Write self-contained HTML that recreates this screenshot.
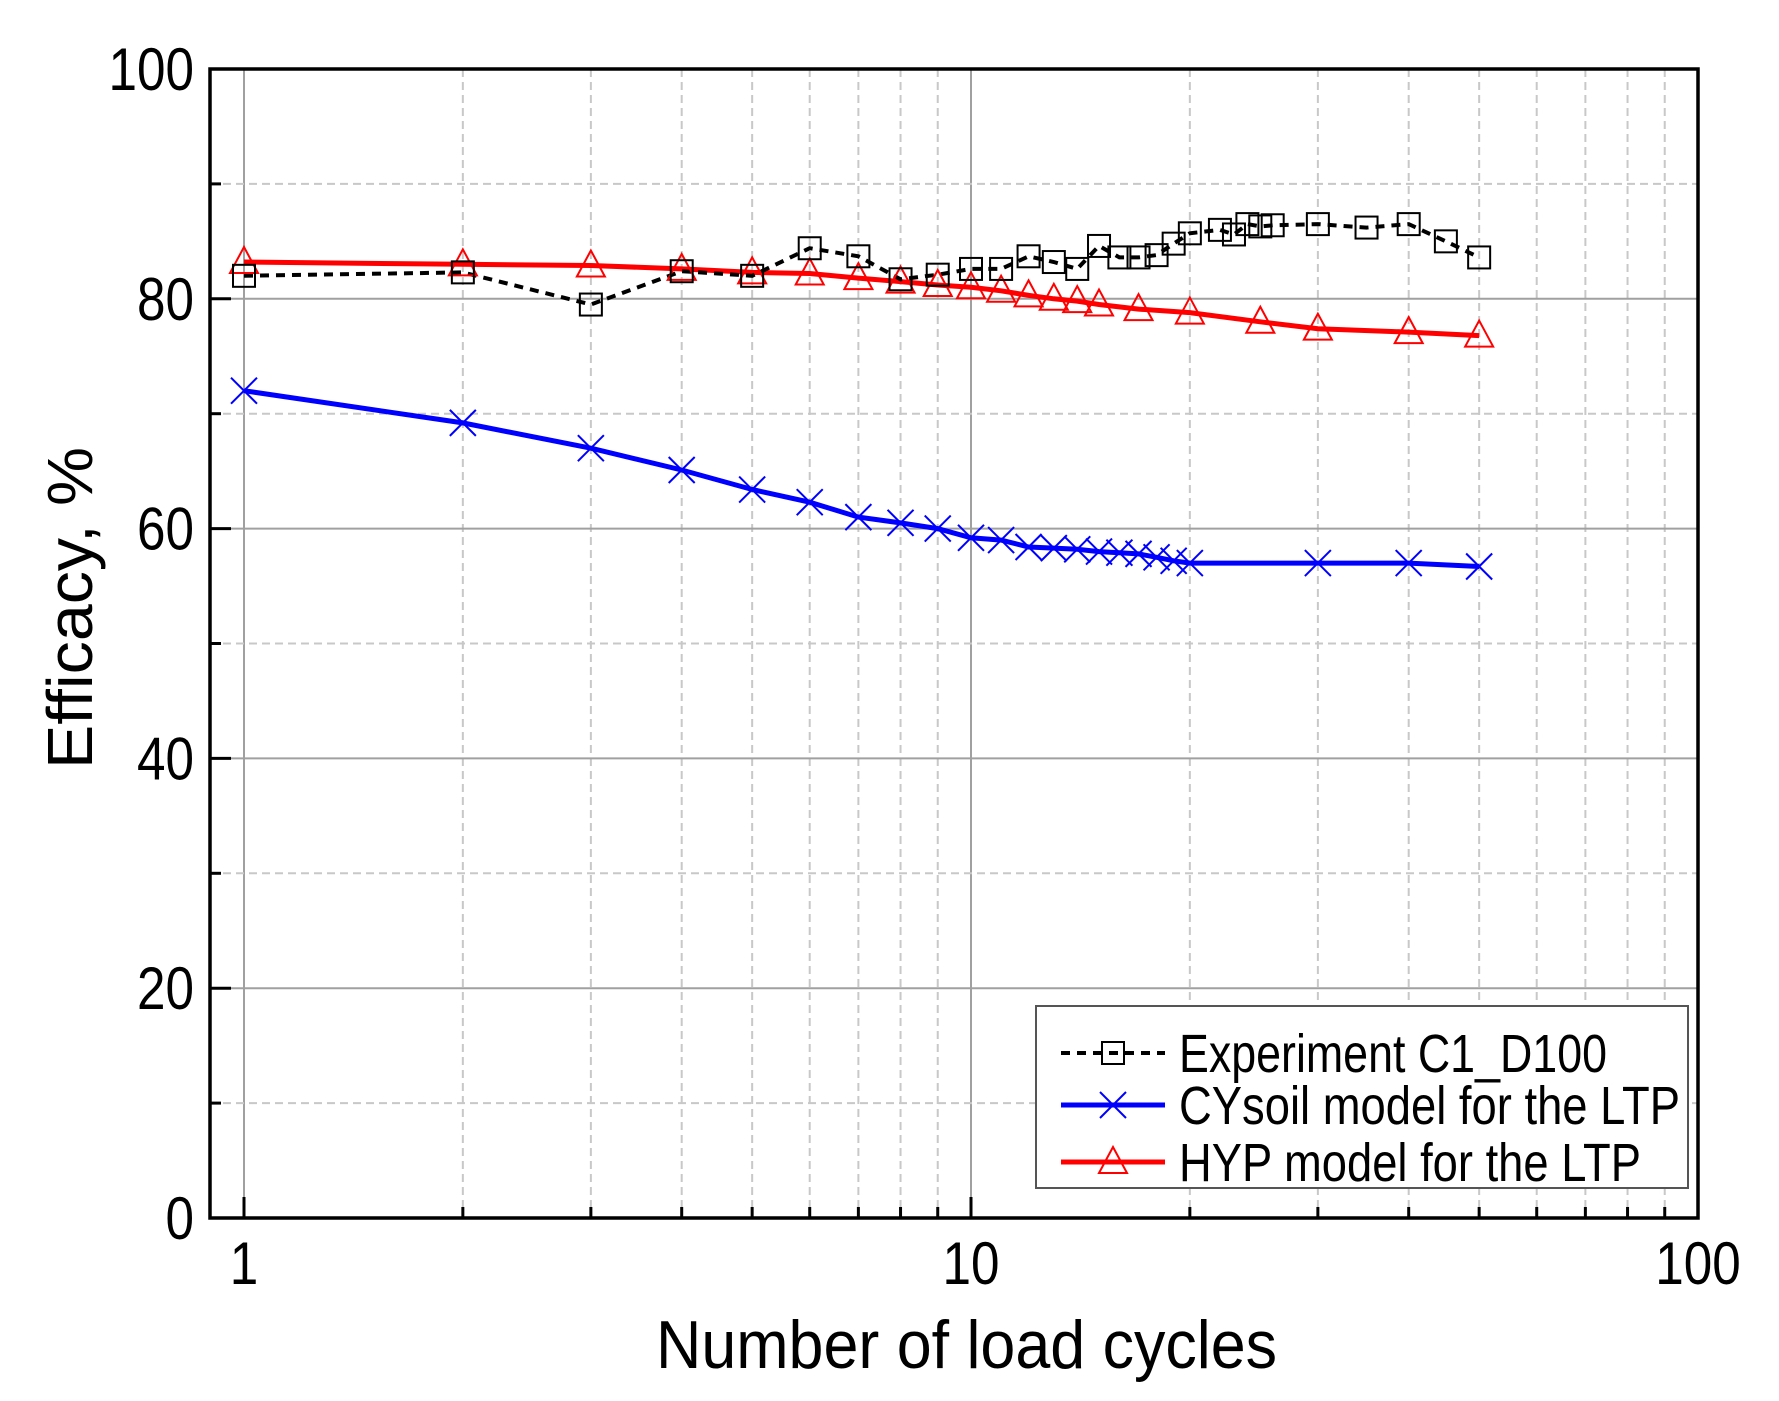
<!DOCTYPE html>
<html><head><meta charset="utf-8"><style>
html,body{margin:0;padding:0;background:#fff}
svg{display:block}
text{font-family:"Liberation Sans",Arial,sans-serif;fill:#000}
</style></head><body>
<svg id="s" width="1779" height="1401" xmlns="http://www.w3.org/2000/svg"></svg>
<script>
const L=210,R=1698,T=69,B=1218,X0=244,DEC=727;
const xp=v=>X0+Math.log10(v)*DEC, yp=v=>B-(v/100)*(B-T);
let h='';
for(let d=0;d<2;d++)for(let k=2;k<=9;k++){const x=xp(k*Math.pow(10,d));h+=`<line x1="${x}" y1="${T}" x2="${x}" y2="${B}" stroke="#c8c8c8" stroke-width="2" stroke-dasharray="8,5"/>`;
h+=`<line x1="${x}" y1="${B}" x2="${x}" y2="${B-11}" stroke="#000" stroke-width="3"/>`;}
for(const v of [1,10]){const x=xp(v);h+=`<line x1="${x}" y1="${T}" x2="${x}" y2="${B}" stroke="#a0a0a0" stroke-width="2"/><line x1="${x}" y1="${B}" x2="${x}" y2="${B-21}" stroke="#000" stroke-width="3"/>`;}
for(let v=10;v<100;v+=10){const y=yp(v);if(v%20==0){h+=`<line x1="${L}" y1="${y}" x2="${R}" y2="${y}" stroke="#a0a0a0" stroke-width="2"/><line x1="${L}" y1="${y}" x2="${L+21}" y2="${y}" stroke="#000" stroke-width="3"/>`;}
else{h+=`<line x1="${L}" y1="${y}" x2="${R}" y2="${y}" stroke="#c8c8c8" stroke-width="2" stroke-dasharray="8,5"/><line x1="${L}" y1="${y}" x2="${L+11}" y2="${y}" stroke="#000" stroke-width="3"/>`;}}
const tw=t=>t.length*28.5;
for(let v=0;v<=100;v+=20){const t=String(v);h+=`<text x="${194-tw(t)}" y="${yp(v)+21}" font-size="60" textLength="${tw(t)}" lengthAdjust="spacingAndGlyphs">${t}</text>`;}
[[1,'1'],[10,'10'],[100,'100']].forEach(([v,t])=>h+=`<text x="${xp(v)-tw(t)/2}" y="1284" font-size="60" textLength="${tw(t)}" lengthAdjust="spacingAndGlyphs">${t}</text>`);
h+=`<text x="656" y="1368" font-size="68" textLength="621" lengthAdjust="spacingAndGlyphs">Number of load cycles</text>`;
h+=`<text transform="translate(92,608) rotate(-90)" font-size="64" text-anchor="middle" textLength="322" lengthAdjust="spacingAndGlyphs">Efficacy, %</text>`;
const ex=[[1,82],[2,82.3],[3,79.5],[4,82.4],[5,82],[6,84.4],[7,83.7],[8,81.7],[9,82.1],[10,82.6],[11,82.6],[12,83.7],[13,83.2],[14,82.6],[15,84.6],[16,83.6],[17,83.6],[18,83.8],[19,84.8],[20,85.7],[22,86],[23,85.6],[24,86.5],[25,86.3],[26,86.4],[30,86.5],[35,86.2],[40,86.5],[45,85],[50,83.6]];
const cy=[[1,72],[2,69.2],[3,67],[4,65.1],[5,63.4],[6,62.3],[7,61],[8,60.5],[9,60],[10,59.2],[11,59],[12,58.4],[13,58.3],[14,58.2],[15,58],[16,57.9],[17,57.8],[18,57.5],[19,57.2],[20,57],[30,57],[40,57],[50,56.7]];
const hy=[[1,83.2],[2,83],[3,82.9],[4,82.6],[5,82.3],[6,82.2],[7,81.8],[8,81.5],[9,81.2],[10,81],[11,80.7],[12,80.3],[13,80],[14,79.8],[15,79.5],[17,79.1],[20,78.8],[25,78],[30,77.4],[40,77.1],[50,76.8]];
const pts=a=>a.map(([x,y])=>xp(x).toFixed(1)+','+yp(y).toFixed(1)).join(' ');
const sq=(x,y)=>`<rect x="${x-11}" y="${y-11}" width="22" height="22" fill="none" stroke="#000" stroke-width="2"/>`;
const cr=(x,y)=>`<path d="M${x-13} ${y-13}L${x+13} ${y+13}M${x-13} ${y+13}L${x+13} ${y-13}" stroke="#00f" stroke-width="2"/>`;
const tr=(x,y)=>`<path d="M${x} ${y-15}L${x+14} ${y+11}L${x-14} ${y+11}Z" fill="none" stroke="#f00" stroke-width="2"/>`;
h+=`<polyline points="${pts(cy)}" fill="none" stroke="#00f" stroke-width="5"/>`;
h+=`<polyline points="${pts(hy)}" fill="none" stroke="#f00" stroke-width="5"/>`;
h+=`<polyline points="${pts(ex)}" fill="none" stroke="#000" stroke-width="4" stroke-dasharray="9,7"/>`;
cy.forEach(([x,y])=>h+=cr(xp(x),yp(y)));
hy.forEach(([x,y])=>h+=tr(xp(x),yp(y)));
ex.forEach(([x,y])=>h+=sq(xp(x),yp(y)));
h+=`<rect x="${L}" y="${T}" width="${R-L}" height="${B-T}" fill="none" stroke="#000" stroke-width="3.5"/>`;
h+=`<rect x="1036" y="1006" width="652" height="182" fill="#fff" stroke="#555" stroke-width="2"/>`;
h+=`<line x1="1061" y1="1053" x2="1165" y2="1053" stroke="#000" stroke-width="4" stroke-dasharray="9,7"/>`+sq(1113,1053);
h+=`<line x1="1061" y1="1105" x2="1165" y2="1105" stroke="#00f" stroke-width="5"/>`+cr(1113,1105);
h+=`<line x1="1061" y1="1162" x2="1165" y2="1162" stroke="#f00" stroke-width="5"/>`+tr(1113,1162);
h+=`<text x="1179" y="1072" font-size="54" textLength="428" lengthAdjust="spacingAndGlyphs">Experiment C1_D100</text>`;
h+=`<text x="1179" y="1124" font-size="54" textLength="501" lengthAdjust="spacingAndGlyphs">CYsoil model for the LTP</text>`;
h+=`<text x="1179" y="1181" font-size="54" textLength="462" lengthAdjust="spacingAndGlyphs">HYP model for the LTP</text>`;
document.getElementById('s').innerHTML=h;
</script>
</body></html>
